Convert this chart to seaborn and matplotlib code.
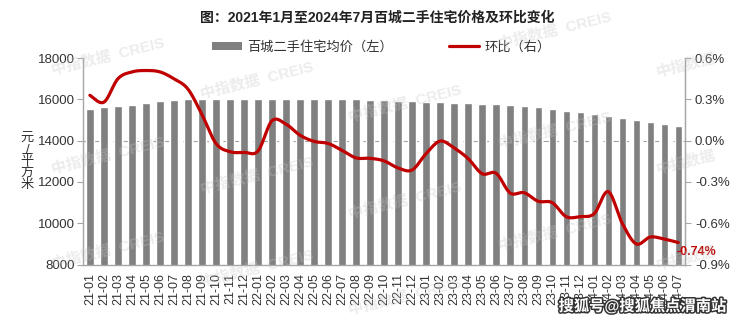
import numpy as np
import pandas as pd
import matplotlib
matplotlib.use("Agg")
import matplotlib.pyplot as plt
import matplotlib.patheffects as pe
from matplotlib.patches import Patch
from matplotlib.lines import Line2D
import seaborn as sns

# ---- data -------------------------------------------------------------
months = [f"{y:02d}-{m:02d}" for y in (21, 22, 23, 24) for m in range(1, 13)][:43]

avg_price = [15560, 15610, 15675, 15740, 15835, 15915, 15965, 16025, 16035, 16040,
             16040, 16040, 16035, 16035, 16040, 16040, 16035, 16035, 16030, 16015,
             15980, 15950, 15930, 15900, 15870, 15860, 15850, 15820, 15795, 15770,
             15720, 15675, 15610, 15530, 15450, 15370, 15275, 15205, 15110, 15010,
             14915, 14790, 14690]

mom_change = [0.33, 0.28, 0.45, 0.50, 0.51, 0.50, 0.45, 0.375, 0.19, -0.02,
              -0.08, -0.085, -0.075, 0.145, 0.12, 0.04, -0.005, -0.02, -0.07, -0.125,
              -0.128, -0.147, -0.198, -0.213, -0.094, -0.003, -0.053, -0.13, -0.24, -0.237,
              -0.38, -0.378, -0.44, -0.45, -0.552, -0.552, -0.53, -0.37, -0.60, -0.75,
              -0.70, -0.715, -0.74]

left_ticks = [8000, 10000, 12000, 14000, 16000, 18000]
right_ticks = [-0.9, -0.6, -0.3, 0.0, 0.3, 0.6]

df = pd.DataFrame({"month": months, "price": avg_price, "mom": mom_change})

BAR = "#808080"
RED = "#c00000"
AXIS = "#a6a6a6"


def smooth_curve(x, y, n=24):
    """Catmull-Rom style Bezier smoothing through every point."""
    pts = np.column_stack([x, y]).astype(float)
    P = np.vstack([pts[0], pts, pts[-1]])
    segs = []
    t = np.linspace(0, 1, n, endpoint=False)[:, None]
    for i in range(1, len(P) - 2):
        p0, p1, p2, p3 = P[i - 1], P[i], P[i + 1], P[i + 2]
        b1 = p1 + (p2 - p0) / 6.0
        b2 = p2 - (p3 - p1) / 6.0
        segs.append((1 - t) ** 3 * p1 + 3 * (1 - t) ** 2 * t * b1
                    + 3 * (1 - t) * t ** 2 * b2 + t ** 3 * p2)
    segs.append(pts[-1:])
    c = np.vstack(segs)
    return c[:, 0], c[:, 1]


# ---- figure -----------------------------------------------------------
sns.set_style("white")
plt.rcParams["font.family"] = ["Liberation Sans", "Noto Sans CJK SC"]
plt.rcParams["axes.unicode_minus"] = False

fig = plt.figure(figsize=(7.4, 3.23), dpi=100)
ax = fig.add_axes([0.112, 0.181, 0.814, 0.639])

sns.barplot(data=df, x="month", y="price", color=BAR, saturation=1,
            width=0.52, ax=ax, zorder=2)
ax.set_ylim(8000, 18000)
ax.set_xlim(-0.5, len(months) - 0.5)
ax.set_yticks(left_ticks)
ax.set_yticklabels([str(v) for v in left_ticks], fontsize=9.5, color="#333333")
ax.set_xticks(range(len(months)))
ax.set_xticklabels(months, rotation=90, fontsize=9, color="#333333")
ax.set_xticks(np.arange(-0.5, len(months), 1), minor=True)
ax.tick_params(axis="x", which="major", length=0, pad=6)
ax.tick_params(axis="x", which="minor", length=3, color=AXIS)
ax.tick_params(axis="y", length=4, color=AXIS, pad=2)
ax.set_xlabel("")
ax.set_ylabel("")
ax.axhline(14000, color="#a0a0a0", lw=0.8, ls=(0, (5, 4)), zorder=1)

ax.spines["top"].set_visible(False)
for s in ("left", "bottom", "right"):
    ax.spines[s].set_color(AXIS)
    ax.spines[s].set_linewidth(1.0)

# month-on-month change on the right axis
ax2 = ax.twinx()
xs, ys = smooth_curve(np.arange(len(months)), mom_change)
sns.lineplot(x=xs, y=ys, sort=False, color=RED, lw=2.3, ax=ax2, zorder=4)
ax2.set_ylim(-0.9, 0.6)
ax2.set_yticks(right_ticks)
ax2.set_yticklabels([f"{v:.1f}%" for v in right_ticks], fontsize=9.5, color="#333333")
ax2.tick_params(axis="y", length=4, color=AXIS, pad=3)
ax2.set_ylabel("")
for s in ("top", "left", "bottom"):
    ax2.spines[s].set_visible(False)
ax2.spines["right"].set_color(AXIS)

last = len(months) - 1
ax2.annotate(f"{mom_change[-1]:.2f}%", (last, mom_change[-1]),
             xytext=(-1, -7), textcoords="offset points",
             ha="left", va="center", fontsize=9, fontweight="bold", color=RED)

# unit label, stacked vertically
fig.text(0.037, 0.50, "元\n/\n平\n方\n米", ha="center", va="center",
         fontsize=9.5, color="#333333", linespacing=0.95)

# title and legend
fig.text(0.51, 0.944, "图：2021年1月至2024年7月百城二手住宅价格及环比变化",
         ha="center", va="center", fontsize=10, fontweight="bold", color="#222222")
handles = [Patch(facecolor=BAR, edgecolor="none"),
           Line2D([], [], color=RED, lw=2.3)]
fig.legend(handles, ["百城二手住宅均价（左）", "环比（右）"], loc="center",
           bbox_to_anchor=(0.515, 0.855), ncol=2, frameon=False, fontsize=9.5,
           handlelength=2.3, handleheight=0.55, columnspacing=4.2,
           handletextpad=0.4, labelcolor="#333333")

# brand watermark tiles
columns = [(108, [56, 155, 250], "中指数据  CREIS"),
           (257, [80, 175, 268], "中指数据  CREIS"),
           (405, [103, 200, 296], "中指数据  CREIS"),
           (555, [30, 130, 232], "中指数据  CREIS"),
           (686, [65, 162, 258], "中指数据")]
for cx, rows, mark in columns:
    for cy in rows:
        fig.text(cx / 740, 1 - cy / 323, mark, ha="center",
                 va="center", rotation=14, fontsize=11, fontweight="bold",
                 color="#c4c4c4", alpha=0.32, zorder=10)

fig.text(0.868, 0.052, "搜狐号@搜狐焦点渭南站", ha="center", va="center",
         fontsize=11, fontweight="bold", color="white", zorder=11,
         path_effects=[pe.withStroke(linewidth=2.2, foreground="#333333")])

fig.savefig("out.png", dpi=100)
